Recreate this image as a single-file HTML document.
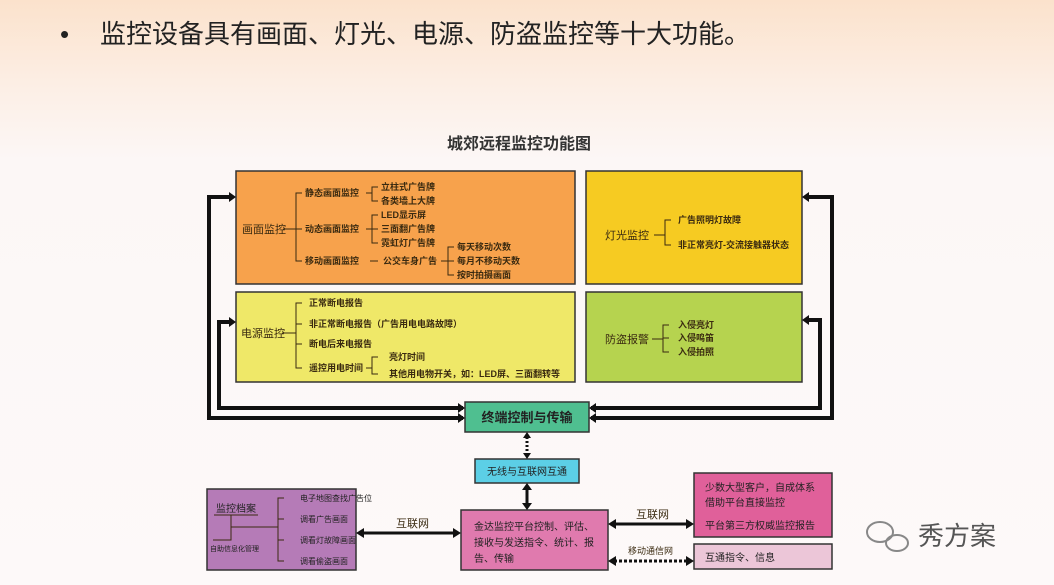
<!DOCTYPE html>
<html><head><meta charset="utf-8"><style>
html,body{margin:0;padding:0}
body{width:1054px;height:585px;overflow:hidden;background:linear-gradient(#fbe2cc 0px,#fcefe6 90px,#fcf7f6 160px,#fdf9f9 585px);font-family:"Liberation Sans","Noto Sans CJK SC",sans-serif}
svg{position:absolute;left:0;top:0}
text{font-family:"Liberation Sans","Noto Sans CJK SC",sans-serif;fill:#3a2a10}
.s{font-size:9px;font-weight:bold}
.m{font-size:11px}
</style></head><body>
<svg width="1054" height="585" viewBox="0 0 1054 585">
<text x="60" y="43" style="font-size:26px;fill:#222">•</text>
<text x="100" y="43" style="font-size:26px;fill:#222">监控设备具有画面、灯光、电源、防盗监控等十大功能。</text>
<text x="519" y="149" text-anchor="middle" style="font-size:16px;font-weight:bold;fill:#333">城郊远程监控功能图</text>

<g stroke="#333" stroke-width="1.5">
<rect x="236" y="171" width="339" height="113" fill="#f7a24c"/>
<rect x="236" y="292" width="339" height="90" fill="#efe868"/>
<rect x="586" y="171" width="216" height="113" fill="#f6cb22"/>
<rect x="586" y="292" width="216" height="90" fill="#b6d34f"/>
<rect x="465" y="402" width="124" height="30" fill="#4fbf90"/>
<rect x="475" y="459" width="104" height="24" fill="#5ccfe6"/>
<rect x="207" y="489" width="149" height="81" fill="#b57bb7"/>
<rect x="461" y="510" width="147" height="60" fill="#e07aae"/>
<rect x="694" y="473" width="138" height="64" fill="#e0609a"/>
<rect x="694" y="544" width="138" height="25" fill="#ecc6d8"/>
</g>

<g fill="none" stroke="#111" stroke-width="4">
<polyline points="232,197 209,197 209,418 463,418"/>
<polyline points="232,322 219,322 219,408 463,408"/>
<polyline points="806,197 832,197 832,418 591,418"/>
<polyline points="806,320 820,320 820,408 591,408"/>
</g>
<g fill="#111">
<polygon points="236,197 229,192 229,202"/><polygon points="236,322 229,317 229,327"/>
<polygon points="802,197 809,192 809,202"/><polygon points="802,320 809,315 809,325"/>
<polygon points="465,408 458,403 458,413"/><polygon points="465,418 458,413 458,423"/>
<polygon points="589,408 596,403 596,413"/><polygon points="589,418 596,413 596,423"/>
</g>
<line x1="527" y1="437" x2="527" y2="455" stroke="#111" stroke-width="3" stroke-dasharray="2,2"/>
<polygon points="527,432 523,438 531,438" fill="#111"/><polygon points="527,459 523,453 531,453" fill="#111"/>
<line x1="527" y1="488" x2="527" y2="506" stroke="#111" stroke-width="3"/>
<polygon points="527,483 522,490 532,490" fill="#111"/><polygon points="527,510 522,503 532,503" fill="#111"/>
<line x1="362" y1="533" x2="455" y2="533" stroke="#111" stroke-width="3"/>
<polygon points="356,533 364,528 364,538" fill="#111"/><polygon points="461,533 453,528 453,538" fill="#111"/>
<text x="396" y="527" class="m" fill="#222">互联网</text>
<line x1="614" y1="524" x2="688" y2="524" stroke="#111" stroke-width="3"/>
<polygon points="608,524 616,519 616,529" fill="#111"/><polygon points="694,524 686,519 686,529" fill="#111"/>
<text x="636" y="518" class="m">互联网</text>
<line x1="614" y1="561" x2="688" y2="561" stroke="#111" stroke-width="3" stroke-dasharray="3,2"/>
<polygon points="608,561 616,556 616,566" fill="#111"/><polygon points="694,561 686,556 686,566" fill="#111"/>
<text x="628" y="554" style="font-size:9px">移动通信网</text>

<g stroke="#3a2a10" stroke-width="1" fill="none">
<line x1="283" y1="229" x2="296" y2="229"/>
<polyline points="302,193 296,193 296,261 302,261"/><line x1="296" y1="229" x2="302" y2="229"/>
<line x1="366" y1="193" x2="372" y2="193"/><polyline points="378,187 372,187 372,201 378,201"/>
<line x1="366" y1="229" x2="372" y2="229"/><polyline points="378,215 372,215 372,243 378,243"/><line x1="372" y1="229" x2="378" y2="229"/>
<line x1="370" y1="261" x2="378" y2="261"/>
<line x1="441" y1="261" x2="448" y2="261"/><polyline points="454,247 448,247 448,275 454,275"/><line x1="448" y1="261" x2="454" y2="261"/>
<line x1="282" y1="333" x2="296" y2="333"/>
<polyline points="302,303 296,303 296,368 302,368"/><line x1="296" y1="324" x2="302" y2="324"/><line x1="296" y1="344" x2="302" y2="344"/>
<line x1="366" y1="368" x2="372" y2="368"/><polyline points="378,357 372,357 372,374 378,374"/>
<line x1="654" y1="235" x2="665" y2="235"/><polyline points="671,220 665,220 665,245 671,245"/>
<line x1="652" y1="339" x2="663" y2="339"/><polyline points="669,325 663,325 663,352 669,352"/><line x1="663" y1="338" x2="669" y2="338"/>
<line x1="214" y1="515" x2="258" y2="515"/>
<polyline points="231,515 231,540 213,540"/><line x1="231" y1="527" x2="278" y2="527"/>
<polyline points="284,498 278,498 278,561 284,561"/><line x1="278" y1="519" x2="284" y2="519"/><line x1="278" y1="540" x2="284" y2="540"/>
</g>
<g>
<text x="242" y="233" style="font-size:11px">画面监控</text>
<text x="305" y="196" class="s">静态画面监控</text>
<text x="305" y="232" class="s">动态画面监控</text>
<text x="305" y="264" class="s">移动画面监控</text>
<text x="381" y="190" class="s">立柱式广告牌</text>
<text x="381" y="204" class="s">各类墙上大牌</text>
<text x="381" y="218" class="s">LED显示屏</text>
<text x="381" y="232" class="s">三面翻广告牌</text>
<text x="381" y="246" class="s">霓虹灯广告牌</text>
<text x="383" y="264" class="s">公交车身广告</text>
<text x="457" y="250" class="s">每天移动次数</text>
<text x="457" y="264" class="s">每月不移动天数</text>
<text x="457" y="278" class="s">按时拍摄画面</text>
<text x="241" y="337" style="font-size:11px">电源监控</text>
<text x="309" y="306" class="s">正常断电报告</text>
<text x="309" y="327" class="s">非正常断电报告（广告用电电路故障）</text>
<text x="309" y="347" class="s">断电后来电报告</text>
<text x="309" y="371" class="s">遥控用电时间</text>
<text x="389" y="360" class="s">亮灯时间</text>
<text x="389" y="377" class="s">其他用电物开关，如：LED屏、三面翻转等</text>
<text x="605" y="239" style="font-size:11px">灯光监控</text>
<text x="678" y="223" class="s">广告照明灯故障</text>
<text x="678" y="248" class="s">非正常亮灯-交流接触器状态</text>
<text x="605" y="343" style="font-size:11px">防盗报警</text>
<text x="678" y="328" class="s">入侵亮灯</text>
<text x="678" y="341" class="s">入侵鸣笛</text>
<text x="678" y="355" class="s">入侵拍照</text>
</g>
<text x="527" y="422" text-anchor="middle" style="font-size:13px;font-weight:bold;fill:#222">终端控制与传输</text>
<text x="527" y="475" text-anchor="middle" style="font-size:10px;fill:#222">无线与互联网互通</text>
<text x="216" y="512" style="font-size:10px;fill:#222">监控档案</text>
<text x="210" y="551" style="font-size:7px;fill:#222">自助信息化管理</text>
<text x="300" y="501" style="font-size:8px;fill:#222">电子地图查找广告位</text>
<text x="300" y="522" style="font-size:8px;fill:#222">调看广告画面</text>
<text x="300" y="543" style="font-size:8px;fill:#222">调看灯故障画面</text>
<text x="300" y="564" style="font-size:8px;fill:#222">调看偷盗画面</text>
<text x="474" y="530" style="font-size:10px;fill:#222">金达监控平台控制、评估、</text>
<text x="474" y="546" style="font-size:10px;fill:#222">接收与发送指令、统计、报</text>
<text x="474" y="562" style="font-size:10px;fill:#222">告、传输</text>
<text x="705" y="491" style="font-size:10px;fill:#222">少数大型客户，自成体系</text>
<text x="705" y="506" style="font-size:10px;fill:#222">借助平台直接监控</text>
<text x="705" y="529" style="font-size:10px;fill:#222">平台第三方权威监控报告</text>
<text x="705" y="561" style="font-size:10px;fill:#222">互通指令、信息</text>
<g fill="none" stroke="#888" stroke-width="2">
<ellipse cx="880" cy="532" rx="13" ry="10"/><ellipse cx="897" cy="543" rx="11" ry="8"/>
</g>
<text x="918" y="545" style="font-size:26px;fill:#555">秀方案</text>
</svg>
</body></html>
